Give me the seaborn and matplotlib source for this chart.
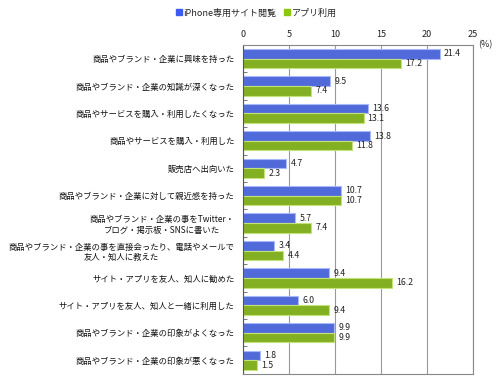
import seaborn as sns
import pandas as pd
import matplotlib.pyplot as plt
from matplotlib.lines import Line2D

categories = [
    "商品やブランド・企業に興味を持った",
    "商品やブランド・企業の知識が深くなった",
    "商品やサービスを購入・利用したくなった",
    "商品やサービスを購入・利用した",
    "販売店へ出向いた",
    "商品やブランド・企業に対して親近感を持った",
    "商品やブランド・企業の事をTwitter・\nブログ・掲示板・SNSに書いた",
    "商品やブランド・企業の事を直接会ったり、電話やメールで\n友人・知人に教えた",
    "サイト・アプリを友人、知人に勧めた",
    "サイト・アプリを友人、知人と一緒に利用した",
    "商品やブランド・企業の印象がよくなった",
    "商品やブランド・企業の印象が悪くなった",
]
series_names = ["iPhone専用サイト閲覧", "アプリ利用"]
iphone_site = [21.4, 9.5, 13.6, 13.8, 4.7, 10.7, 5.7, 3.4, 9.4, 6.0, 9.9, 1.8]
app_use = [17.2, 7.4, 13.1, 11.8, 2.3, 10.7, 7.4, 4.4, 16.2, 9.4, 9.9, 1.5]
x_ticks = [0, 5, 10, 15, 20, 25]

colors = ["#3a5cf0", "#8cc80a"]
edge_colors = ["#a9b8f8", "#c4e27a"]

df = pd.DataFrame({
    "category": categories * 2,
    "series": [series_names[0]] * len(categories) + [series_names[1]] * len(categories),
    "value": iphone_site + app_use,
})

sns.set_theme(style="white")
plt.rcParams["font.family"] = ["Noto Sans CJK JP", "DejaVu Sans"]

fig = plt.figure(figsize=(5, 3.8), dpi=100)
ax = fig.add_axes([0.486, 0.016, 0.46, 0.866])

sns.barplot(data=df, y="category", x="value", hue="series", order=categories,
            hue_order=series_names, palette=colors, width=0.7, orient="h",
            legend=False, ax=ax)

for container, ec in zip(ax.containers, edge_colors):
    for patch in container:
        patch.set_edgecolor(ec)
        patch.set_linewidth(0.8)
    ax.bar_label(container, fmt="%.1f", padding=3, fontsize=6.3, color="#222222")

ax.set_xlim(0, 25)
ax.set_ylim(len(categories) - 0.5, -0.5)
ax.set_xticks(x_ticks)
ax.xaxis.tick_top()
ax.tick_params(axis="x", length=0, labelsize=6.5, pad=4, labelcolor="#222222")
ax.tick_params(axis="y", which="major", length=0, labelsize=6.0, pad=6,
               labelcolor="#111111")
ax.set_yticks([i + 0.5 for i in range(len(categories) - 1)], minor=True)
ax.tick_params(axis="y", which="minor", direction="in", length=3, width=0.6,
               color="#666666", left=True)
for lbl in ax.get_yticklabels():
    lbl.set_multialignment("center")
ax.set_xlabel("")
ax.set_ylabel("")
ax.grid(axis="x", color="#999999", linewidth=0.8)
ax.set_axisbelow(True)
for side, sp in ax.spines.items():
    sp.set_color("#888888")
    sp.set_linewidth(0.8)
ax.spines["left"].set_color("#555555")

fig.text(0.985, 0.882, "(%)", ha="right", va="center", fontsize=6.5, color="#222222")

handles = [Line2D([], [], marker="s", linestyle="", markersize=4,
                  markerfacecolor=c, markeredgecolor=c) for c in colors]
fig.legend(handles, series_names, loc="center", bbox_to_anchor=(0.512, 0.966),
           ncol=2, frameon=False, fontsize=6.5, handletextpad=0.1,
           columnspacing=0.8, handlelength=0.8)

fig.savefig("out.png", dpi=100)
